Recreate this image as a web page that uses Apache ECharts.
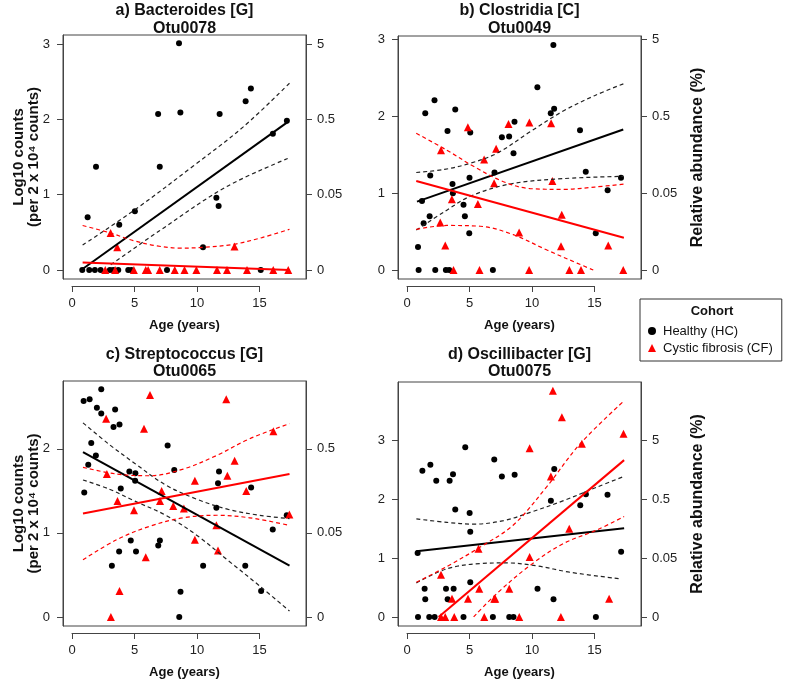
<!DOCTYPE html>
<html><head><meta charset="utf-8">
<script src="https://cdn.jsdelivr.net/npm/echarts@6/dist/echarts.min.js"></script>
<style>html,body{margin:0;padding:0;background:#fff}#c{width:787px;height:681px}</style>
</head><body><div id="c"></div>
<script>
// ---------------- data ----------------
const panelTitles = ['a) Bacteroides [G]', 'b) Clostridia [C]', 'c) Streptococcus [G]', 'd) Oscillibacter [G]'];
const otuLabels = ['Otu0078', 'Otu0049', 'Otu0065', 'Otu0075'];
const cohortNames = ['Healthy (HC)', 'Cystic fibrosis (CF)'];
const xTicks = [0, 5, 10, 15];
const yTicksA = [0, 1, 2, 3];
const yTicksB = [0, 1, 2, 3];
const yTicksC = [0, 1, 2];
const yTicksD = [0, 1, 2, 3];
const relAbundanceLabels = ['0', '0.05', '0.5', '5'];
const xRange = [-0.72, 18.72];
const yRanges = [[-0.12, 3.12], [-0.117, 3.047], [-0.108, 2.808], [-0.154, 4.0]];

// Panel a) Bacteroides
const aHC = [[0.82,0],[1.38,0],[1.83,0],[2.29,0],[3.03,0],[3.3,0],[3.7,0],[4.5,0],[4.75,0],[7.6,0],[15.1,0],
  [1.25,0.70],[1.92,1.37],[3.78,0.60],[5.03,0.78],[6.89,2.07],[7.02,1.37],[8.56,3.01],[8.67,2.09],[10.48,0.30],
  [11.55,0.96],[11.73,0.85],[11.81,2.07],[13.89,2.24],[14.31,2.41],[16.07,1.81],[17.19,1.98]];
const aCF = [[3.09,0.49],[3.62,0.30],[13.0,0.31],[2.66,0],[3.45,0],[4.95,0],[5.9,0],[6.09,0],[7.02,0],[8.22,0],
  [9.0,0],[9.95,0],[11.6,0],[12.4,0],[14.0,0],[16.1,0],[17.3,0]];
const aHCfit = [[0.9,0.02],[17.3,1.97]];
const aHCupper = [[0.85,0.33],[5.2,0.82],[9.7,1.38],[13.7,1.90],[17.4,2.48]];
const aHClower = [[3.1,0.07],[7.0,0.52],[12.3,1.10],[17.4,1.49]];
const aCFfit = [[0.85,0.10],[17.4,0.0]];
const aCFupper = [[0.85,0.59],[3.1,0.49],[4.9,0.39],[6.8,0.32],[8.6,0.29],[10.5,0.30],[12.9,0.34],[15.2,0.43],[17.4,0.54]];
const aCFlower = [];

// Panel b) Clostridia
const bHC = [[0.93,0],[2.26,0],[3.11,0],[3.38,0],[6.87,0],
  [0.88,0.30],[1.2,0.90],[1.33,0.61],[1.46,2.04],[1.81,0.70],[1.86,1.23],[2.2,2.21],[3.24,1.81],[3.64,1.12],
  [3.67,1.0],[3.86,2.09],[4.52,0.85],[4.63,0.70],[4.98,0.48],[5.0,1.20],[5.06,1.79],[7.0,1.27],[7.59,1.73],
  [8.17,1.74],[8.52,1.52],[8.6,1.93],[10.43,2.38],[11.5,2.04],[11.71,2.93],[11.77,2.10],[13.84,1.82],[14.3,1.28],
  [15.1,0.48],[16.05,1.04],[17.12,1.20]];
const bCF = [[2.72,1.56],[2.66,0.62],[3.06,0.32],[3.59,0.92],[3.72,0],[4.87,1.86],[5.67,0.86],[5.8,0],[6.17,1.44],
  [6.97,1.13],[7.13,1.58],[8.12,1.90],[8.97,0.49],[9.77,0],[9.79,1.92],[11.53,1.91],[11.63,1.16],[12.38,0.72],
  [12.32,0.31],[12.99,0],[13.92,0],[16.1,0.32],[17.3,0]];
const bHCfit = [[0.8,0.89],[17.3,1.83]];
const bHCupper = [[0.74,1.27],[3.0,1.31],[5.06,1.39],[7.2,1.52],[9.85,1.80],[12.5,2.07],[15.0,2.27],[17.4,2.43]];
const bHClower = [[0.74,0.52],[3.0,0.76],[5.06,0.96],[8.25,1.12],[12.5,1.19],[17.3,1.22]];
const bCFfit = [[0.74,1.16],[17.35,0.42]];
const bCFupper = [[0.74,1.78],[3.19,1.56],[5.32,1.35],[7.72,1.15],[9.85,1.06],[12.5,1.05],[15.0,1.08],[17.4,1.12]];
const bCFlower = [[0.74,0.53],[3.19,0.58],[5.85,0.57],[8.5,0.46],[11.2,0.26],[13.6,0.09],[14.9,0]];

// Panel c) Streptococcus
const cHC = [[0.93,2.57],[1.41,2.59],[1.99,2.49],[2.34,2.42],[2.34,2.71],[3.45,2.47],[3.32,2.26],[3.80,2.29],
  [1.54,2.07],[1.91,1.92],[1.30,1.81],[0.98,1.48],[3.9,1.53],[4.59,1.73],[5.07,1.71],[5.05,1.62],[7.65,2.04],
  [8.18,1.75],[3.77,0.78],[3.19,0.61],[4.7,0.91],[5.12,0.78],[6.9,0.85],[7.03,0.91],[8.68,0.30],[8.58,0],
  [10.49,0.61],[11.55,1.30],[11.68,1.59],[11.76,1.73],[13.86,0.61],[14.33,1.54],[15.13,0.31],[16.06,1.04],[17.18,1.21]];
const cCF = [[6.24,2.64],[2.73,2.36],[5.76,2.24],[12.34,2.59],[16.11,2.21],[2.79,1.70],[3.64,1.38],[4.96,1.27],
  [7.17,1.50],[7.04,1.38],[8.1,1.32],[8.95,1.29],[9.83,1.62],[9.83,0.92],[11.55,1.09],[11.68,0.79],[12.43,1.68],
  [13.01,1.86],[13.94,1.50],[17.39,1.22],[5.9,0.71],[3.80,0.31],[3.11,0.0]];
const cHCfit = [[0.88,1.96],[17.4,0.61]];
const cHCupper = [[0.88,2.31],[3.0,2.05],[5.0,1.83],[7.5,1.57],[10.0,1.40],[12.5,1.28],[15.0,1.21],[17.4,1.17]];
const cHClower = [[0.88,1.63],[3.0,1.52],[5.0,1.38],[7.5,1.21],[10.0,0.97],[12.5,0.67],[15.0,0.37],[17.4,0.07]];
const cCFfit = [[0.88,1.23],[17.4,1.70]];
const cCFupper = [[0.88,1.78],[3.59,1.70],[6.24,1.68],[8.9,1.76],[11.55,1.92],[14.2,2.12],[17.4,2.30]];
const cCFlower = [[0.88,0.68],[3.59,0.92],[6.24,1.08],[8.9,1.18],[11.55,1.21],[14.2,1.18],[17.4,1.09]];

// Panel d) Oscillibacter
const dHC = [[0.85,1.09],[0.88,0],[1.23,2.49],[1.41,0.48],[1.46,0.30],[1.78,0],[1.87,2.59],[2.21,0],[2.34,2.32],
  [3.12,0.48],[3.25,0.30],[3.41,2.32],[3.68,2.43],[3.73,0.48],[3.86,1.83],[4.52,0],[4.66,2.89],[5.01,1.77],
  [5.06,1.45],[5.06,0.59],[6.87,0],[6.98,2.68],[7.59,2.39],[8.18,0],[8.52,0],[8.61,2.42],[10.44,0.48],[11.51,1.98],
  [11.72,0.30],[11.78,2.52],[13.86,1.90],[14.31,2.09],[15.11,0],[16.04,2.08],[17.13,1.11]];
const dCF = [[2.72,0.72],[2.72,0],[3.06,0],[3.6,0.31],[3.78,0],[4.88,0.31],[5.72,1.16],[5.78,0.48],[6.18,0],
  [6.98,0.31],[7.06,0.31],[8.18,0.48],[8.98,0],[9.81,2.87],[9.81,1.02],[11.51,2.39],[11.67,3.85],[12.31,0],
  [12.39,3.40],[12.98,1.50],[13.99,2.95],[16.17,0.31],[17.32,3.12]];
const dHCfit = [[0.75,1.12],[17.37,1.51]];
const dHCupper = [[0.75,1.67],[3.2,1.61],[5.33,1.58],[7.73,1.64],[9.86,1.78],[12.52,1.98],[15.19,2.21],[17.32,2.39]];
const dHClower = [[0.75,0.58],[3.2,0.82],[5.86,0.91],[7.99,0.92],[10.39,0.87],[13.06,0.76],[17.05,0.65]];
const dCFfit = [[2.53,0],[17.37,2.67]];
const dCFupper = [[0.75,0.59],[3.2,0.86],[5.86,1.19],[8.53,1.57],[11.19,2.22],[13.86,2.95],[17.37,3.68]];
const dCFlower = [[5.33,0],[7.19,0.40],[9.86,0.88],[12.52,1.25],[15.19,1.48],[17.37,1.71]];

// ---------------- layout / styling ----------------
const FONT = 'Liberation Sans, Arial, sans-serif';
const boxes = [
  {l: 63, t: 35, w: 243, h: 244},
  {l: 398, t: 36, w: 243, h: 243},
  {l: 63, t: 381, w: 243, h: 245},
  {l: 398, t: 382, w: 243, h: 244}
];
const panels = [
  {hc: aHC, cf: aCF, hcFit: aHCfit, hcUp: aHCupper, hcLo: aHClower, cfFit: aCFfit, cfUp: aCFupper, cfLo: aCFlower, yTicks: yTicksA},
  {hc: bHC, cf: bCF, hcFit: bHCfit, hcUp: bHCupper, hcLo: bHClower, cfFit: bCFfit, cfUp: bCFupper, cfLo: bCFlower, yTicks: yTicksB},
  {hc: cHC, cf: cCF, hcFit: cHCfit, hcUp: cHCupper, hcLo: cHClower, cfFit: cCFfit, cfUp: cCFupper, cfLo: cCFlower, yTicks: yTicksC},
  {hc: dHC, cf: dCF, hcFit: dHCfit, hcUp: dHCupper, hcLo: dHClower, cfFit: dCFfit, cfUp: dCFupper, cfLo: dCFlower, yTicks: yTicksD}
];

const AXIS_COLOR = '#444';
const TICK_FONT = 13;
const grids = [], xAxes = [], yAxes = [], series = [], graphics = [];

boxes.forEach((b, i) => {
  grids.push({left: b.l, top: b.t, width: b.w, height: b.h, show: true, borderColor: AXIS_COLOR, borderWidth: 1, backgroundColor: 'transparent'});
});
// auxiliary grids for the detached R-style x axes (span 0..15)
boxes.forEach((b, i) => {
  const span = xRange[1] - xRange[0];
  const left = b.l + (xTicks[0] - xRange[0]) / span * b.w;
  const width = (xTicks[xTicks.length - 1] - xTicks[0]) / span * b.w;
  grids.push({left: left, top: b.t + b.h + 6, width: width, height: 1, show: false});
});

boxes.forEach((b, i) => {
  xAxes.push({gridIndex: i, type: 'value', min: xRange[0], max: xRange[1], show: false, splitLine: {show: false}});
});
boxes.forEach((b, i) => {
  xAxes.push({gridIndex: 4 + i, type: 'value', min: xTicks[0], max: xTicks[xTicks.length - 1], interval: 5, position: 'bottom',
    axisLine: {show: true, lineStyle: {color: AXIS_COLOR, width: 1}},
    axisTick: {show: true, inside: false, length: 6, lineStyle: {color: AXIS_COLOR}},
    axisLabel: {fontSize: TICK_FONT, color: '#222', margin: 11, fontFamily: FONT},
    splitLine: {show: false}});
});
panels.forEach((p, i) => {
  yAxes.push({gridIndex: i, type: 'value', min: yRanges[i][0], max: yRanges[i][1], position: 'left',
    axisLine: {show: true, onZero: false, lineStyle: {color: AXIS_COLOR}},
    axisTick: {show: true, inside: false, length: 6, customValues: p.yTicks, lineStyle: {color: AXIS_COLOR}},
    axisLabel: {customValues: p.yTicks, fontSize: TICK_FONT, color: '#222', margin: 13, fontFamily: FONT},
    splitLine: {show: false}});
});
panels.forEach((p, i) => {
  yAxes.push({gridIndex: i, type: 'value', min: yRanges[i][0], max: yRanges[i][1], position: 'right',
    axisLine: {show: true, onZero: false, lineStyle: {color: AXIS_COLOR}},
    axisTick: {show: true, inside: false, length: 6, customValues: p.yTicks, lineStyle: {color: AXIS_COLOR}},
    axisLabel: {customValues: p.yTicks, fontSize: TICK_FONT, color: '#222', margin: 11, fontFamily: FONT,
      formatter: v => relAbundanceLabels[Math.round(v)]},
    splitLine: {show: false}});
});
boxes.forEach((b, i) => {
  yAxes.push({gridIndex: 4 + i, type: 'value', show: false});
});

function lineSeries(i, data, color, dashed) {
  return {type: 'line', xAxisIndex: i, yAxisIndex: i, data: data, symbol: 'none', silent: true, z: 3,
    smooth: dashed ? 0.35 : false, clip: true,
    lineStyle: {color: color, width: dashed ? 1.2 : 2, type: dashed ? [4, 3] : 'solid', opacity: 1}};
}

panels.forEach((p, i) => {
  series.push({type: 'scatter', name: cohortNames[0], xAxisIndex: i, yAxisIndex: i, data: p.hc, symbol: 'circle', symbolSize: 6,
    itemStyle: {color: '#000', opacity: 1}, z: 2});
  series.push({type: 'scatter', name: cohortNames[1], xAxisIndex: i, yAxisIndex: i, data: p.cf, symbol: 'triangle', symbolSize: 8,
    itemStyle: {color: '#ff0000', opacity: 1}, z: 2});
  series.push(lineSeries(i, p.hcFit, '#000', false));
  series.push(lineSeries(i, p.hcUp, '#222', true));
  series.push(lineSeries(i, p.hcLo, '#222', true));
  series.push(lineSeries(i, p.cfFit, '#ff0000', false));
  series.push(lineSeries(i, p.cfUp, '#ff0000', true));
  if (p.cfLo.length) series.push(lineSeries(i, p.cfLo, '#ff0000', true));
});

// titles and axis titles as text
boxes.forEach((b, i) => {
  const cx = b.l + b.w / 2;
  const top = i < 2 ? 11 : 354.5;
  graphics.push({type: 'text', x: cx, y: top, style: {text: panelTitles[i], font: 'bold 16px ' + FONT, fill: '#111', textAlign: 'center', textVerticalAlign: 'middle'}});
  graphics.push({type: 'text', x: cx, y: top + 17.5, style: {text: otuLabels[i], font: 'bold 16px ' + FONT, fill: '#111', textAlign: 'center', textVerticalAlign: 'middle'}});
  graphics.push({type: 'text', x: cx, y: b.t + b.h + 46, style: {text: 'Age (years)', font: 'bold 13px ' + FONT, fill: '#111', textAlign: 'center', textVerticalAlign: 'middle'}});
  const cy = b.t + b.h / 2;
  if (i % 2 === 0) {
    graphics.push({type: 'text', x: 19, y: cy, rotation: Math.PI / 2, style: {text: 'Log10 counts', font: 'bold 15px ' + FONT, fill: '#111', textAlign: 'center', textVerticalAlign: 'middle'}});
    graphics.push({type: 'text', x: 34, y: cy, rotation: Math.PI / 2, style: {text: '(per 2 x 10\u2074 counts)', font: 'bold 15px ' + FONT, fill: '#111', textAlign: 'center', textVerticalAlign: 'middle'}});
  } else {
    graphics.push({type: 'text', x: 698, y: cy, rotation: Math.PI / 2, style: {text: 'Relative abundance (%)', font: 'bold 16px ' + FONT, fill: '#111', textAlign: 'center', textVerticalAlign: 'middle'}});
  }
});
graphics.push({type: 'text', x: 712, y: 311, style: {text: 'Cohort', font: 'bold 13px ' + FONT, fill: '#111', textAlign: 'center', textVerticalAlign: 'middle'}});

const chart = echarts.init(document.getElementById('c'), null, {renderer: 'canvas'});
chart.setOption({
  animation: false,
  backgroundColor: '#fff',
  textStyle: {fontFamily: FONT},
  grid: grids,
  xAxis: xAxes,
  yAxis: yAxes,
  legend: {
    left: 640, top: 299, orient: 'vertical', selectedMode: false,
    padding: [25, 9, 6, 8], itemGap: 3, itemWidth: 8, itemHeight: 8,
    borderColor: '#333', borderWidth: 1,
    textStyle: {fontSize: 13, color: '#111', lineHeight: 14, fontFamily: FONT, padding: [0, 0, 0, 2]},
    data: [{name: cohortNames[0], icon: 'circle'}, {name: cohortNames[1], icon: 'triangle'}]
  },
  graphic: graphics,
  series: series
});
</script></body></html>
